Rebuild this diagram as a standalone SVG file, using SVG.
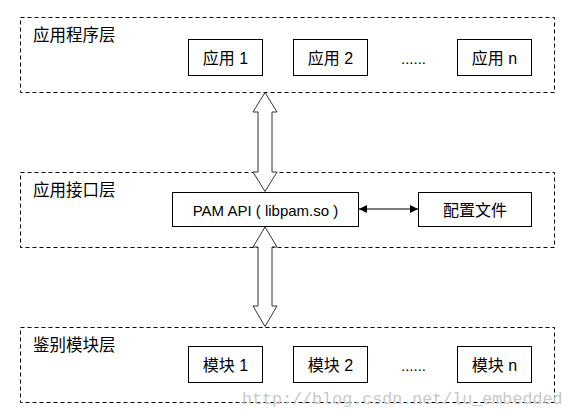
<svg xmlns="http://www.w3.org/2000/svg" width="575" height="419" viewBox="0 0 575 419">
  <defs>
    <style>
      .layer { fill: none; stroke: #000; stroke-width: 1; stroke-dasharray: 4 3; }
      .box { fill: #fff; stroke: #000; stroke-width: 1; }
      .lbl { font-family: "Liberation Sans", "Noto Sans CJK SC", sans-serif; font-size: 16.5px; fill: #000; }
      .txt { font-family: "Liberation Sans", "Noto Sans CJK SC", sans-serif; font-size: 16px; fill: #000; text-anchor: middle; }
      .pam { font-size: 15px; }
      .dots { font-family: "Liberation Sans", sans-serif; font-size: 15px; fill: #000; }
      .hollow { fill: #fff; stroke: #333; stroke-width: 1; }
      .conn { stroke: #000; stroke-width: 1.2; fill: none; }
      .wm { font-family: "Liberation Mono", monospace; font-size: 16.7px; fill: #c8c8c8; }
    </style>
    <marker id="ah" viewBox="0 0 10 10" refX="10" refY="5" markerWidth="8" markerHeight="8" markerUnits="userSpaceOnUse" orient="auto-start-reverse">
      <path d="M0,0 L10,5 L0,10 z" fill="#000"/>
    </marker>
  </defs>
  <rect width="575" height="419" fill="#fff"/>

  <g id="layer-app">
    <rect class="layer" x="20.5" y="17.5" width="534" height="75"/>
    <text class="lbl" x="33" y="35" dominant-baseline="central">应用程序层</text>
  </g>
  <g id="app1">
    <rect class="box" x="188.5" y="39.5" width="74" height="36"/>
    <text class="txt" x="225.5" y="58" dominant-baseline="central">应用 1</text>
  </g>
  <g id="app2">
    <rect class="box" x="293.5" y="39.5" width="74" height="36"/>
    <text class="txt" x="330.5" y="58" dominant-baseline="central">应用 2</text>
  </g>
  <text class="dots" x="401" y="64">......</text>
  <g id="appn">
    <rect class="box" x="457.5" y="39.5" width="74" height="36"/>
    <text class="txt" x="494.5" y="58" dominant-baseline="central">应用 n</text>
  </g>

  <g id="layer-api">
    <rect class="layer" x="20.5" y="172.5" width="534" height="75"/>
    <text class="lbl" x="33" y="190" dominant-baseline="central">应用接口层</text>
  </g>
  <g id="pam">
    <rect class="box" x="172.5" y="192.5" width="186" height="34"/>
    <text class="txt pam" x="265.5" y="210" dominant-baseline="central">PAM API ( libpam.so )</text>
  </g>
  <g id="conf">
    <rect class="box" x="418.5" y="192.5" width="113" height="34"/>
    <text class="txt" x="475" y="210" dominant-baseline="central">配置文件</text>
  </g>

  <g id="layer-auth">
    <rect class="layer" x="20.5" y="327.5" width="534" height="75"/>
    <text class="lbl" x="33" y="345" dominant-baseline="central">鉴别模块层</text>
  </g>
  <g id="mod1">
    <rect class="box" x="188.5" y="346.5" width="74" height="36"/>
    <text class="txt" x="225.5" y="365" dominant-baseline="central">模块 1</text>
  </g>
  <g id="mod2">
    <rect class="box" x="293.5" y="346.5" width="74" height="36"/>
    <text class="txt" x="330.5" y="365" dominant-baseline="central">模块 2</text>
  </g>
  <text class="dots" x="401" y="371">......</text>
  <g id="modn">
    <rect class="box" x="457.5" y="346.5" width="74" height="36"/>
    <text class="txt" x="494.5" y="365" dominant-baseline="central">模块 n</text>
  </g>

  <g id="connectors">
    <polygon class="hollow" points="265,92.5 277,112 272,112 272,172 277,172 265,191.5 253,172 258,172 258,112 253,112"/>
    <polygon class="hollow" points="265,227 277,247 272,247 272,306 277,306 265,326.5 253,306 258,306 258,247 253,247"/>
    <line class="conn" x1="359" y1="209" x2="418" y2="209" marker-start="url(#ah)" marker-end="url(#ah)"/>
  </g>

  <text class="wm" x="242" y="404">http://blog.csdn.net/lu_embedded</text>
</svg>
